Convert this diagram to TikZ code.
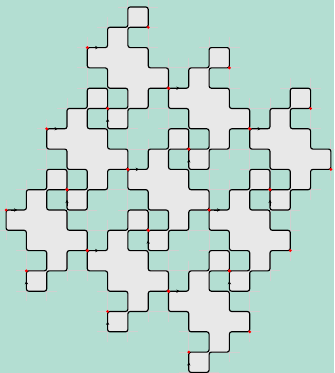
\documentclass[tikz,border=0pt]{standalone}
\usetikzlibrary{arrows.meta}
\definecolor{bgteal}{HTML}{B3DED2}
\definecolor{tilegray}{HTML}{E8E8E8}
\definecolor{gridgray}{HTML}{D0D0D0}

% boundary word of one tile, starting at its lower left start point
\newcommand{\tileword}{-- ++(1,0) -- ++(0,1) -- ++(1,0) -- ++(0,1) -- ++(1,0) -- ++(0,-1)
  -- ++(-1,0) -- ++(0,-1) -- ++(1,0) -- ++(0,-1) -- ++(1,0) -- ++(0,-1)
  -- ++(-1,0) -- ++(0,-1) -- ++(-1,0) -- ++(0,-1) -- ++(-1,0) -- ++(0,1)
  -- ++(1,0) -- ++(0,1) -- ++(-1,0) -- ++(0,1) -- ++(-1,0) -- cycle}

\begin{document}
\begin{tikzpicture}[x=0.5cm, y=0.5cm,
    tileshape/.style={fill=tilegray, draw=black, line width=0.8pt, rounded corners=1.6pt},
    gridline/.style={draw=gridgray, line width=0.6pt},
    startdot/.style={fill=red},
    dirarrow/.style={-{Stealth[length=2.3pt, width=2.3pt]}, line width=0.6pt}]
  \useasboundingbox (-0.3,-18.03) rectangle (16.16,0.345);
  \clip (-0.3,-18.03) rectangle (16.16,0.345);
  \fill[bgteal] (-0.3,-18.03) rectangle (16.16,0.345);

  % Start points: 3 x 3 block of tiles
  \foreach \i in {0,1,2} {
    \foreach \j in {0,1,2} {
      \coordinate (t\i\j) at (4+4*\i-2*\j, -2-2*\i-4*\j);
    }
  }

  % Grid lines under every cell of a tile
  \foreach \i in {0,1,2} {
    \foreach \j in {0,1,2} {
      \begin{scope}[shift={(t\i\j)}]
        \foreach \a/\b in {2/2,1/1,0/0,1/0,2/0,1/-1,2/-1,3/-1,2/-2,1/-3} {
          \draw[gridline] (\a-0.5,\b) -- (\a+1.5,\b) (\a-0.5,\b-1) -- (\a+1.5,\b-1)
            (\a,\b+0.5) -- (\a,\b-1.5) (\a+1,\b+0.5) -- (\a+1,\b-1.5);
        }
      \end{scope}
    }
  }

  % Tiles
  \foreach \i in {0,1,2} {
    \foreach \j in {0,1,2} {
      \path[tileshape] (t\i\j) \tileword;
    }
  }

  % Corner dots and direction arrows
  \foreach \i in {0,1,2} {
    \foreach \j in {0,1,2} {
      \fill[startdot] (t\i\j) circle (1.1pt);
      \fill[startdot] ([shift={(3,1)}]t\i\j) circle (1.1pt);
      \fill[startdot] ([shift={(4,-2)}]t\i\j) circle (1.1pt);
      \fill[startdot] ([shift={(1,-3)}]t\i\j) circle (1.1pt);
      \draw[dirarrow] ([shift={(0.25,0)}]t\i\j) -- ([shift={(0.55,0)}]t\i\j);
      \draw[dirarrow] ([shift={(1,-3.8)}]t\i\j) -- ([shift={(1,-3.5)}]t\i\j);
    }
  }
\end{tikzpicture}
\end{document}
